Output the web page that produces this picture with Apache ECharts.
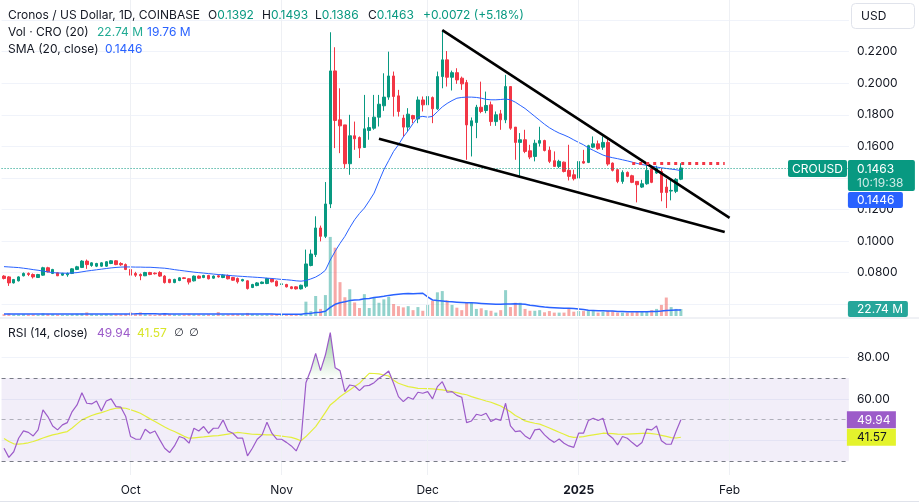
<!DOCTYPE html>
<html><head><meta charset="utf-8">
<script src="https://cdn.jsdelivr.net/npm/echarts@6/dist/echarts.min.js"></script>
<style>html,body{margin:0;padding:0;background:#fff}#c{width:919px;height:503px}</style>
</head><body><div id="c"></div>
<script>
// ---------- data ----------
const startDate = '2024-09-05';
const totalDays = 174;
const monthStarts = ['2024-10-01','2024-11-01','2024-12-01','2025-01-01','2025-02-01'];
const monthNames = {'01':'Jan','02':'Feb','03':'Mar','04':'Apr','05':'May','06':'Jun','07':'Jul','08':'Aug','09':'Sep','10':'Oct','11':'Nov','12':'Dec'};
const priceTickLabelsHidden = [0.06, 0.24];
const rsiTickLabelsShown = [60, 80];

const openP = [.0778,.0773,.0735,.0748,.0780,.0795,.0788,.0769,.0784,.0831,
.0795,.0799,.0784,.0786,.0795,.0820,.0833,.0873,.0845,.0841,
.0841,.0841,.0858,.0875,.0858,.0851,.0820,.0795,.0788,.0780,
.0801,.0797,.0801,.0778,.0757,.0737,.0750,.0767,.0761,.0748,
.0778,.0769,.0782,.0765,.0780,.0769,.0782,.0769,.0763,.0748,
.0748,.0706,.0718,.0731,.0731,.0759,.0746,.0725,.0725,.0710,
.0710,.0697,.0714,.0845,.0914,.1083,.1030,.1235,.2078,.1768,
.1736,.1490,.1667,.1656,.1593,.1701,.1715,.1785,.1857,.1912,
.2046,.1920,.1779,.1722,.1795,.1774,.1894,.1863,.1909,.1838,
.2042,.2148,.2038,.2067,.2032,.2004,.1730,.1751,.1848,.1827,
.1863,.1757,.1806,.1768,.1979,.1722,.1625,.1642,.1572,.1536,
.1620,.1637,.1576,.1509,.1473,.1500,.1448,.1420,.1399,.1504,
.1498,.1595,.1616,.1595,.1625,.1494,.1452,.1378,.1435,.1414,
.1378,.1342,.1363,.1456,.1431,.1441,.1342,.1317,.1315,.1392];
const highP = [.0784,.0778,.0760,.0777,.0801,.0801,.0795,.0792,.0837,.0837,
.0824,.0803,.0799,.0801,.0828,.0843,.0879,.0883,.0866,.0862,
.0866,.0873,.0879,.0879,.0866,.0858,.0826,.0805,.0795,.0805,
.0805,.0801,.0809,.0784,.0761,.0761,.0771,.0771,.0765,.0782,
.0782,.0786,.0786,.0782,.0788,.0790,.0788,.0773,.0769,.0761,
.0752,.0729,.0740,.0744,.0767,.0763,.0750,.0733,.0729,.0714,
.0714,.0724,.0946,.0946,.1157,.1098,.1374,.2323,.2228,.1968,
.1736,.1800,.1757,.1663,.1926,.1785,.1926,.1926,.2063,.2200,
.2074,.1958,.1800,.1842,.1800,.1916,.1916,.1958,.1916,.2074,
.2337,.2204,.2080,.2095,.2042,.2021,.1783,.1863,.2010,.1947,
.1884,.1821,.1831,.2053,.1979,.1722,.1684,.1705,.1610,.1642,
.1724,.1642,.1599,.1568,.1515,.1504,.1610,.1452,.1511,.1578,
.1610,.1663,.1637,.1663,.1652,.1498,.1456,.1448,.1441,.1420,
.1378,.1388,.1483,.1473,.1477,.1462,.1393,.1399,.1399,.1493];
const lowP = [.0757,.0716,.0731,.0744,.0776,.0778,.0763,.0767,.0780,.0801,
.0791,.0778,.0780,.0774,.0791,.0816,.0829,.0824,.0837,.0835,
.0837,.0837,.0854,.0847,.0843,.0816,.0778,.0773,.0752,.0778,
.0784,.0788,.0773,.0731,.0733,.0733,.0746,.0759,.0725,.0744,
.0761,.0765,.0757,.0761,.0769,.0765,.0757,.0748,.0731,.0744,
.0693,.0702,.0714,.0727,.0727,.0738,.0712,.0721,.0706,.0695,
.0693,.0693,.0703,.0840,.0899,.0998,.1019,.1209,.1589,.1557,
.1462,.1420,.1578,.1526,.1593,.1642,.1705,.1726,.1825,.1895,
.1789,.1789,.1660,.1694,.1747,.1747,.1821,.1821,.1747,.1831,
.1968,.1979,.1954,.1996,.1958,.1515,.1536,.1652,.1810,.1810,
.1730,.1730,.1705,.1747,.1705,.1515,.1410,.1557,.1519,.1505,
.1599,.1568,.1494,.1473,.1462,.1435,.1384,.1384,.1388,.1490,
.1494,.1589,.1578,.1578,.1477,.1441,.1367,.1363,.1405,.1367,
.1245,.1336,.1357,.1367,.1426,.1252,.1209,.1258,.1304,.1386];
const closeP = [.0763,.0735,.0756,.0773,.0795,.0788,.0773,.0788,.0831,.0805,
.0820,.0780,.0795,.0795,.0824,.0837,.0873,.0851,.0862,.0858,
.0862,.0869,.0875,.0851,.0850,.0820,.0784,.0784,.0780,.0801,
.0788,.0793,.0778,.0737,.0737,.0757,.0767,.0763,.0740,.0778,
.0765,.0782,.0761,.0778,.0773,.0784,.0761,.0752,.0742,.0756,
.0699,.0725,.0735,.0740,.0763,.0742,.0716,.0729,.0710,.0699,
.0697,.0720,.0855,.0918,.1083,.1030,.1235,.2078,.1764,.1730,
.1490,.1667,.1648,.1589,.1711,.1719,.1785,.1867,.1912,.2046,
.1916,.1821,.1722,.1804,.1774,.1894,.1863,.1916,.1838,.2042,
.2148,.2038,.2067,.2021,.1996,.1736,.1762,.1848,.1821,.1859,
.1757,.1800,.1768,.1979,.1715,.1625,.1642,.1568,.1532,.1620,
.1637,.1574,.1505,.1473,.1505,.1441,.1410,.1395,.1504,.1494,
.1604,.1616,.1585,.1625,.1488,.1448,.1378,.1435,.1410,.1372,
.1357,.1363,.1448,.1372,.1462,.1308,.1308,.1321,.1391,.1463];
// volume in millions of CRO
const volumeM = [6,8,5,5,6,5,5,4,9,7, 6,5,4,4,6,7,8,12,6,5, 5,6,5,6,5,7,12,9,12,6,
5,4,6,8,6,5,4,4,6,5, 5,4,5,4,13,4,5,6,6,5, 10,6,5,4,5,5,6,5,5,6, 5,6,
46.6,16,65,23,68,257,222,110,61,87,
44,26,71,26,61,43,54,62,39,32,
28,32,19,29,17,36,49,77,81,51,
36,27,19,44,43,23,25,19,17,11,
19,84,29,43,43,23,17,17,19,12,
16,11,11,11,25,14,16,16,17,17,
11,14,17,16,11,11,11,12,16,16,
16,19,23,36,60,29,23,22.74];
const volSmaM = [6.8,6.8,6.7,6.7,6.6,6.6,6.5,6.5,6.6,6.6, 6.6,6.5,6.5,6.4,6.4,6.5,6.6,6.8,6.8,6.7,
6.6,6.6,6.6,6.6,6.5,6.6,6.9,7.0,7.2,7.2, 7.1,7.0,6.9,7.0,6.9,6.8,6.8,6.7,6.6,6.5,
6.4,6.3,6.2,6.1,6.5,6.4,6.3,6.3,6.2,6.2, 6.4,6.4,6.3,6.2,6.2,6.1,6.0,6.0,5.9,5.9, 5.9,6.0,
8.0,8.5,11.5,12.3,15.4,28,38,43,46,50,
52,53,56,57,60,62,64,67,69,71,
72,73,72,73,74,62,52,50,49,47,
46,45,44,43,43,42,41,40,39,38,
38,39,39,40,39,38,35,33,31,29,
28,27,26,25,25,24,23,21,19,18,
17,17,16,16,15,15,14,14,14,14,
14,15,15,16,18,19,19.5,19.76];
const smaClose = [.0838,.0836,.0834,.0832,.0828,.0824,.0819,.0815,.0810,.0805,
.0800,.0798,.0797,.0796,.0798,.0800,.0805,.0810,.0814,.0818,
.0822,.0826,.0830,.0833,.0835,.0836,.0836,.0835,.0835,.0834,
.0834,.0832,.0830,.0828,.0824,.0819,.0815,.0811,.0807,.0803,
.0800,.0797,.0794,.0791,.0788,.0786,.0783,.0780,.0778,.0776,
.0774,.0772,.0770,.0768,.0765,.0763,.0760,.0757,.0755,.0752,
.0748,.0746,.0750,.0760,.0772,.0790,.0815,.0880,.0935,.0985,
.1030,.1085,.1135,.1175,.1209,.1255,.1304,.1380,.1452,.1510,
.1568,.1610,.1660,.1700,.1745,.1785,.1790,.1785,.1790,.1820,
.1850,.1872,.1890,.1905,.1910,.1912,.1912,.1910,.1905,.1898,
.1895,.1895,.1897,.1900,.1895,.1880,.1860,.1840,.1815,.1790,
.1765,.1740,.1718,.1700,.1684,.1672,.1658,.1641,.1625,.1610,
.1590,.1575,.1560,.1545,.1535,.1528,.1522,.1515,.1508,.1500,
.1492,.1485,.1480,.1475,.1469,.1464,.1460,.1456,.1452,.1446];
const rsi = [36.3,31.9,34.6,41.1,44.6,43.9,42.2,45.1,54.7,51.5,
47.0,45.1,47.5,48.6,53.9,57.1,63.0,57.9,57.6,59.0,
54.2,59.0,60.0,56.3,56.0,51.5,41.9,40.7,40.6,45.4,
43.5,44.6,40.3,36.3,34.2,37.4,41.9,41.1,38.7,45.9,
44.6,46.7,43.5,45.9,45.9,49.9,44.6,43.5,41.1,41.1,
32.6,36.3,40.6,42.7,48.8,43.5,40.7,40.6,39.1,37.4,
35.0,40.3,67.8,73.9,81.9,73.6,81.1,91.9,75.0,73.6,
63.5,66.7,66.2,64.0,66.2,66.5,67.8,69.9,71.5,73.4,
67.5,61.1,58.7,60.8,59.8,63.2,62.7,63.5,60.0,65.9,
68.3,63.2,63.5,61.7,60.8,48.6,49.4,52.6,52.0,53.1,
49.1,50.4,49.6,57.9,47.0,44.3,44.6,42.2,40.7,45.1,
45.5,42.7,40.6,39.1,40.7,38.7,37.4,36.7,43.5,43.5,
49.6,50.7,49.6,50.7,43.0,41.1,37.9,41.9,41.1,39.0,
37.1,39.0,45.5,45.1,47.0,39.9,38.2,38.2,44.3,49.94];
const rsiMa = [41.0,39.5,38.4,38.3,38.5,38.9,39.5,40.3,41.2,42.0,
42.7,43.2,43.8,44.3,46.0,48.0,49.9,51.0,52.0,52.8,
53.4,54.2,55.0,55.5,55.7,55.5,54.8,54.0,53.1,51.8,
50.4,49.1,47.8,46.5,45.3,44.3,43.2,42.0,41.1,41.3,
41.5,41.7,42.0,42.2,42.3,42.7,43.1,43.5,43.9,43.6,
43.3,43.0,42.9,42.8,42.7,42.7,42.4,42.1,41.8,41.5,
40.8,39.9,41.9,44.3,46.7,50.0,53.5,57.1,59.0,61.0,
62.7,64.3,66.0,67.5,70.0,72.3,72.2,72.0,71.5,71.0,
69.0,67.5,66.7,65.9,65.5,65.1,65.0,64.9,64.8,64.6,
64.3,64.0,63.5,63.0,62.4,62.0,61.1,60.4,59.7,59.0,
58.4,57.5,56.6,55.2,53.8,52.0,50.8,49.4,48.8,48.3,
47.9,47.0,46.0,45.0,44.0,43.0,42.0,41.5,41.6,41.9,
42.3,42.7,43.1,43.5,43.4,43.3,43.1,43.0,43.1,43.2,
43.3,43.4,43.5,43.3,43.0,42.5,42.0,41.4,41.2,41.57];
// user drawings: [dayIndex, price]
const trendUpper = [[89.9, 0.2337], [148.9, 0.1147]];
const trendLower = [[76.7, 0.1648], [147.6, 0.1058]];
const redLevel = [[128.7, 0.1490], [148.0, 0.1490]];

// ---------- build ----------
const categories = [];
const d0 = Date.parse(startDate + 'T00:00:00Z');
for (let i = 0; i < totalDays; i++) categories.push(new Date(d0 + i * 86400000).toISOString().slice(0, 10));

const N = openP.length;
const UP = '#089981', DOWN = '#f23645';
const FONT = 'Inter, "Noto Sans", "DejaVu Sans", sans-serif';
const candleData = openP.map((o, i) => [o, closeP[i], lowP[i], highP[i]]);
const volData = volumeM.map((v, i) => ({ value: v, itemStyle: { color: closeP[i] >= openP[i] ? 'rgba(38,166,154,0.5)' : 'rgba(239,83,80,0.5)' } }));
const L = 1.565, R = 70.1;
const near = (a, b) => Math.abs(a - b) < 1e-7;

const monthLines = (color) => ({ silent: true, symbol: 'none', label: { show: false }, emphasis: { disabled: true },
  lineStyle: { color: color, width: 1, type: 'solid' }, data: monthStarts.map(d => ({ xAxis: d })) });
const xBase = { type: 'category', data: categories, boundaryGap: true, axisLine: { show: false }, axisTick: { show: false },
  axisLabel: { show: false }, splitLine: { show: false } };
const gridBase = { left: L, right: R, outerBoundsMode: 'none', containLabel: false };

const chart = echarts.init(document.getElementById('c'));
const option = {
  animation: false,
  backgroundColor: '#ffffff',
  grid: [
    Object.assign({ top: 20.1, height: 284.1 }, gridBase),
    Object.assign({ top: 0, height: 316 }, gridBase),
    Object.assign({ top: 315.7, height: 166.4 }, gridBase),
    Object.assign({ top: 320, height: 155 }, gridBase)
  ],
  xAxis: [
    Object.assign({ gridIndex: 0 }, xBase),
    Object.assign({ gridIndex: 1 }, xBase),
    Object.assign({ gridIndex: 2 }, xBase),
    Object.assign({}, xBase, { gridIndex: 3, axisLabel: {
      show: true, margin: 9, color: '#131722', fontSize: 12, fontFamily: FONT,
      interval: (i, v) => v.slice(8) === '01',
      formatter: v => { const m = v.slice(5, 7); return m === '01' ? '{b|' + v.slice(0, 4) + '}' : monthNames[m]; },
      rich: { b: { fontWeight: 'bold', fontSize: 12, fontFamily: FONT, color: '#131722' } }
    } })
  ],
  yAxis: [
    { gridIndex: 0, type: 'value', position: 'right', min: 0.06, max: 0.24, interval: 0.02, scale: false,
      axisLine: { show: false }, axisTick: { show: false },
      axisLabel: { margin: 8, color: '#131722', fontSize: 12, fontFamily: FONT,
        formatter: v => priceTickLabelsHidden.some(h => near(h, v)) ? '' : v.toFixed(4) },
      splitLine: { lineStyle: { color: '#f0f3fa', width: 1 } } },
    { gridIndex: 1, type: 'value', min: 0, max: 1027, show: false, splitLine: { show: false } },
    { gridIndex: 2, type: 'value', position: 'right', min: 20, max: 100, interval: 20,
      axisLine: { show: false }, axisTick: { show: false },
      axisLabel: { margin: 8, color: '#131722', fontSize: 12, fontFamily: FONT,
        formatter: v => rsiTickLabelsShown.some(h => near(h, v)) ? v.toFixed(2) : '' },
      splitLine: { lineStyle: { color: ['rgba(0,0,0,0)', '#f0f3fa', '#f0f3fa', '#f0f3fa', 'rgba(0,0,0,0)'], width: 1 } } },
    { gridIndex: 3, type: 'value', min: 0, max: 1, show: false, splitLine: { show: false } }
  ],
  series: [
    { name: 'vol', type: 'bar', xAxisIndex: 1, yAxisIndex: 1, data: volData, barWidth: 3, z: 1, silent: true,
      markLine: monthLines('#eef0f4') },
    { name: 'volSma', type: 'line', xAxisIndex: 1, yAxisIndex: 1, data: volSmaM, symbol: 'none', z: 2, silent: true,
      lineStyle: { color: '#2962ff', width: 1.5 } },
    { name: 'CROUSD', type: 'candlestick', xAxisIndex: 0, yAxisIndex: 0, data: candleData, barWidth: 3, z: 3,
      itemStyle: { color: UP, color0: DOWN, borderColor: UP, borderColor0: DOWN, borderWidth: 1 } },
    { name: 'SMA', type: 'line', xAxisIndex: 0, yAxisIndex: 0, data: smaClose, symbol: 'none', z: 4, silent: true,
      lineStyle: { color: '#2962ff', width: 1 },
      markLine: { silent: true, symbol: 'none', label: { show: false }, precision: 8,
        data: [
          { yAxis: closeP[N - 1], lineStyle: { color: UP, width: 1, type: [1, 2] } },
          [{ coord: trendUpper[0], lineStyle: { color: '#000', width: 2.6, type: 'solid' } }, { coord: trendUpper[1] }],
          [{ coord: trendLower[0], lineStyle: { color: '#000', width: 2.6, type: 'solid' } }, { coord: trendLower[1] }],
          [{ coord: redLevel[0], lineStyle: { color: DOWN, width: 3, type: [3, 4] } }, { coord: redLevel[1] }]
        ] } },
    { name: 'rsiBg', type: 'line', xAxisIndex: 3, yAxisIndex: 3, data: categories.map(() => null), symbol: 'none', z: 0, silent: true,
      markLine: monthLines('#eef0f4') },
    { name: 'RSI', type: 'line', xAxisIndex: 2, yAxisIndex: 2, data: rsi, symbol: 'none', z: 5, silent: true,
      lineStyle: { color: '#9c5bc9', width: 1.2 },
      markArea: { silent: true, itemStyle: { color: 'rgba(126,87,194,0.1)' }, data: [[{ yAxis: 30 }, { yAxis: 70 }]] },
      markLine: { silent: true, symbol: 'none', label: { show: false },
        data: [
          { yAxis: 70, lineStyle: { color: '#787b86', width: 1, type: [4, 4] } },
          { yAxis: 50, lineStyle: { color: 'rgba(120,123,134,0.55)', width: 1, type: [4, 4] } },
          { yAxis: 30, lineStyle: { color: '#787b86', width: 1, type: [4, 4] } }
        ] } },
    { name: 'RSI MA', type: 'line', xAxisIndex: 2, yAxisIndex: 2, data: rsiMa, symbol: 'none', z: 4, silent: true,
      lineStyle: { color: '#e3ee3c', width: 1.2 } },
    { name: 'obBase', type: 'line', xAxisIndex: 2, yAxisIndex: 2, stack: 'ob', data: rsi.map(() => 70), symbol: 'none', z: 3, silent: true,
      lineStyle: { width: 0, opacity: 0 } },
    { name: 'obFill', type: 'line', xAxisIndex: 2, yAxisIndex: 2, stack: 'ob', data: rsi.map(v => Math.max(v - 70, 0)), symbol: 'none', z: 3, silent: true,
      lineStyle: { width: 0, opacity: 0 },
      areaStyle: { color: new echarts.graphic.LinearGradient(0, 0, 0, 1, [
        { offset: 0, color: 'rgba(56,160,70,0.75)' }, { offset: 1, color: 'rgba(76,175,80,0.02)' }]) } }
  ]
};
chart.setOption(option);

// ---------- overlay labels ----------
const py = v => chart.convertToPixel({ yAxisIndex: 0 }, v);
const vy = v => chart.convertToPixel({ yAxisIndex: 1 }, v);
const ry = v => chart.convertToPixel({ yAxisIndex: 2 }, v);
const lastC = closeP[N - 1], prevC = closeP[N - 2];
const chg = lastC - prevC, chgPct = chg / prevC * 100;
const lastSma = smaClose[N - 1], lastVol = volumeM[N - 1], lastVolSma = volSmaM[N - 1];
const lastRsi = rsi[N - 1], lastRsiMa = rsiMa[N - 1];
const axX = 919 - R;

const txt = (x, y, text, fill, extra) => Object.assign({ type: 'text', x: x, y: y, z: 50,
  style: Object.assign({ text: text, fill: fill, font: '12px ' + FONT, verticalAlign: 'middle', textVerticalAlign: 'middle' }, (extra || {})) });
const rect = (x, y, w, h, fill, extra) => ({ type: 'rect', z: 40, shape: Object.assign({ x: x, y: y, width: w, height: h }, (extra && extra.shape) || {}),
  style: Object.assign({ fill: fill }, (extra && extra.style) || {}) });

const cy = py(lastC);
const greenTop = cy - 8;
const blueTop = greenTop + 32;
const vY = vy(lastVol);
const r1 = ry(lastRsi), r2 = ry(lastRsiMa);
const f4 = v => v.toFixed(4);
const dark = '#131722', green = '#089981';
const rt = (x, y, letter, val) => ({ type: 'text', x: x, y: y, z: 50, style: { text: '{d|' + letter + '}{g|' + val + '}',
  rich: { d: { fill: dark, font: '12px ' + FONT }, g: { fill: green, font: '12px ' + FONT } }, verticalAlign: 'middle' } });
const els = [
  // separators
  { type: 'line', z: 30, shape: { x1: 0, y1: 318, x2: 919, y2: 318 }, style: { stroke: '#e0e3eb', lineWidth: 1 } },
  { type: 'line', z: 30, shape: { x1: 0, y1: 501.5, x2: 919, y2: 501.5 }, style: { stroke: '#e0e3eb', lineWidth: 1 } },
  // USD
  rect(851.5, 3.5, 63, 25, '#fff', { shape: { r: 4 }, style: { stroke: '#e0e3eb', lineWidth: 1 } }),
  txt(861, 16.5, 'USD', dark),
  // price labels
  rect(788, greenTop, 59, 17, green, { shape: { r: 2 } }),
  txt(817.5, greenTop + 9, 'CROUSD', '#fff', { align: 'center', textAlign: 'center' }),
  rect(axX - 1, greenTop, 67, 31, green, { shape: { r: 2 } }),
  txt(857, greenTop + 9, f4(lastC), '#fff'),
  txt(857, greenTop + 23.5, '10:19:38', 'rgba(255,255,255,0.8)'),
  rect(axX - 1, blueTop, 55, 16, '#2962ff', { shape: { r: 2 } }),
  txt(857, blueTop + 8.5, f4(lastSma), '#fff'),
  rect(axX - 1, vY - 8, 60, 16, '#26a69a', { shape: { r: 2 } }),
  txt(857, vY + 0.5, lastVol.toFixed(2) + ' M', '#fff'),
  rect(axX - 2, r1 - 8.5, 49, 17, '#9c5bc9'),
  txt(857, r1 + 0.5, lastRsi.toFixed(2), '#fff'),
  rect(axX - 2, r2 - 8.5, 49, 17, '#e4f32c'),
  txt(857, r2 + 0.5, lastRsiMa.toFixed(2), dark),
  // legends
  txt(8, 15.5, 'Cronos / US Dollar, 1D, COINBASE', dark),
  rt(208, 15.5, 'O', f4(openP[N - 1])),
  rt(262, 15.5, 'H', f4(highP[N - 1])),
  rt(315, 15.5, 'L', f4(lowP[N - 1])),
  rt(368, 15.5, 'C', f4(lastC)),
  txt(423, 15.5, (chg >= 0 ? '+' : '') + chg.toFixed(4) + ' (' + (chgPct >= 0 ? '+' : '') + chgPct.toFixed(2) + '%)', green),
  txt(8, 32.5, 'Vol \u00b7 CRO (20)', dark),
  txt(97, 32.5, lastVol.toFixed(2) + ' M', '#22ab94'),
  txt(147, 32.5, lastVolSma.toFixed(2) + ' M', '#2962ff'),
  txt(8, 49.5, 'SMA (20, close)', dark),
  txt(105, 49.5, f4(lastSma), '#2962ff'),
  txt(8, 333.5, 'RSI (14, close)', dark),
  txt(97, 333.5, lastRsi.toFixed(2), '#9c5bc9'),
  txt(137, 333.5, lastRsiMa.toFixed(2), '#d8e62a'),
  txt(174, 333.5, '\u2205', dark, { font: '11px "DejaVu Sans", sans-serif' }),
  txt(189, 333.5, '\u2205', dark, { font: '11px "DejaVu Sans", sans-serif' })
];
chart.setOption({ graphic: { elements: els } });
</script>
</body></html>
